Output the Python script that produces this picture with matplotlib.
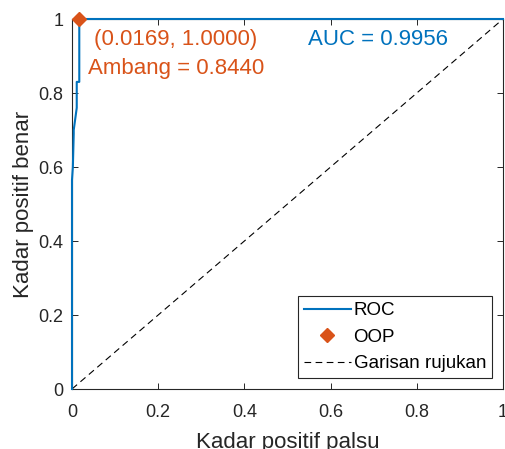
import matplotlib
matplotlib.use("Agg")
import matplotlib.pyplot as plt

# ROC data (false positive rate, true positive rate)
fpr = [0.0, 0.0, 0.002, 0.004, 0.004, 0.011, 0.011, 0.0169, 0.0169, 1.0]
tpr = [0.0, 0.565, 0.60, 0.69, 0.70, 0.76, 0.83, 0.83, 1.0, 1.0]
oop_x = [0.0169]
oop_y = [1.0]
ref_x = [0.0, 1.0]
ref_y = [0.0, 1.0]
ticks = [0, 0.2, 0.4, 0.6, 0.8, 1]
tick_labels = ["0", "0.2", "0.4", "0.6", "0.8", "1"]
auc_text = "AUC = 0.9956"
oop_text = "(0.0169, 1.0000)"
thr_text = "Ambang = 0.8440"

plt.rcParams["font.family"] = ["Liberation Sans", "DejaVu Sans"]

blue = (0.0, 0.447, 0.741)
orange = (0.850, 0.325, 0.098)
gray = (0.15, 0.15, 0.15)

fig = plt.figure(figsize=(5.06, 4.49), dpi=100)
ax = fig.add_axes([72 / 506, 1 - 389 / 449, (503 - 72) / 506, (389 - 19) / 449])

ax.plot(fpr, tpr, color=blue, lw=1.5, label="ROC", zorder=3, clip_on=False)
ax.plot(oop_x, oop_y, linestyle="none", marker="D", markersize=7, color=orange,
        label="OOP", zorder=4, clip_on=False)
ax.plot(ref_x, ref_y, color="black", lw=0.8, linestyle=(0, (6, 4)),
        label="Garisan rujukan", zorder=2)

ax.set_xlim(0, 1)
ax.set_ylim(0, 1)
ax.set_xticks(ticks)
ax.set_xticklabels(tick_labels)
ax.set_yticks(ticks)
ax.set_yticklabels(tick_labels)
ax.tick_params(direction="in", length=4, width=0.7, colors=gray, labelsize=13,
               top=True, right=True, pad=6)
ax.tick_params(axis="x", pad=11)
for s in ax.spines.values():
    s.set_color(gray)
    s.set_linewidth(0.8)

ax.set_xlabel("Kadar positif palsu", fontsize=16, color=gray, labelpad=8)
ax.set_ylabel("Kadar positif benar", fontsize=16, color=gray, labelpad=3)

ax.text(0.051, 0.945, oop_text, color=orange, fontsize=16, ha="left", va="center",
        transform=ax.transData)
ax.text(0.036, 0.865, thr_text, color=orange, fontsize=16, ha="left", va="center")
ax.text(0.547, 0.945, auc_text, color=blue, fontsize=16, ha="left", va="center")

leg = ax.legend(loc="lower right", fontsize=13.5, frameon=True, fancybox=False,
                edgecolor=gray, framealpha=1, handlelength=2.5, handletextpad=0.15,
                borderpad=0.3, labelspacing=0.5, borderaxespad=0.6)
leg.get_frame().set_linewidth(0.8)

fig.savefig("out.png", dpi=100)
